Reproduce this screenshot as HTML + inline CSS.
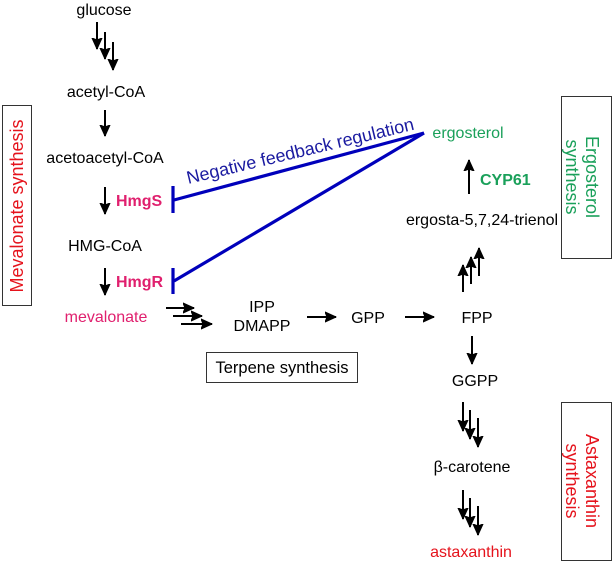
<!DOCTYPE html>
<html><head><meta charset="utf-8"><style>
html,body{margin:0;padding:0;background:#fff;}
svg{display:block;font-family:"Liberation Sans",Arial,sans-serif;}
text{font-size:16px;}
</style></head><body>
<svg width="614" height="567" viewBox="0 0 614 567">
<defs>
<marker id="ah" viewBox="0 0 12 12" refX="11" refY="6" markerWidth="12" markerHeight="12" markerUnits="userSpaceOnUse" orient="auto">
<polygon points="0,1 11,6 0,11 2,6" fill="#000" stroke="#000" stroke-width="1" stroke-linejoin="round"/>
</marker>
</defs>
<g stroke="#000" stroke-width="2" marker-end="url(#ah)">
<line x1="97" y1="22" x2="97" y2="49"/>
<line x1="105" y1="32" x2="105" y2="59"/>
<line x1="113" y1="42" x2="113" y2="70"/>
<line x1="105" y1="110" x2="105" y2="136"/>
<line x1="105" y1="187" x2="105" y2="214"/>
<line x1="105" y1="268" x2="105" y2="295"/>
<line x1="166" y1="308" x2="194" y2="308"/>
<line x1="173" y1="316" x2="202" y2="316"/>
<line x1="181" y1="324" x2="212" y2="324"/>
<line x1="307" y1="317" x2="336" y2="317"/>
<line x1="405" y1="317" x2="434" y2="317"/>
<line x1="463" y1="292" x2="463" y2="265"/>
<line x1="471" y1="284" x2="471" y2="257"/>
<line x1="479" y1="276" x2="479" y2="248"/>
<line x1="469" y1="194" x2="469" y2="160"/>
<line x1="472" y1="336" x2="472" y2="364"/>
<line x1="463" y1="402" x2="463" y2="431"/>
<line x1="470" y1="410" x2="470" y2="439"/>
<line x1="478" y1="418" x2="478" y2="447"/>
<line x1="463" y1="490" x2="463" y2="519"/>
<line x1="470" y1="498" x2="470" y2="527"/>
<line x1="478" y1="506" x2="478" y2="535"/>
</g>
<g stroke="#0000bb" stroke-width="3.2" fill="none">
<line x1="424" y1="133" x2="174" y2="200"/>
<line x1="424" y1="133" x2="174" y2="281"/>
<line x1="173" y1="186" x2="173" y2="213"/>
<line x1="173" y1="268" x2="173" y2="294"/>
</g>
<text x="300" y="157" fill="#1a1aa0" text-anchor="middle" transform="rotate(-13.5 300 150)" style="font-size:18px">Negative feedback regulation</text>
<g text-anchor="middle" fill="#000">
<text x="104" y="15">glucose</text>
<text x="106" y="97">acetyl-CoA</text>
<text x="105" y="163">acetoacetyl-CoA</text>
<text x="105" y="251">HMG-CoA</text>
<text x="262" y="312">IPP</text>
<text x="262" y="331">DMAPP</text>
<text x="368" y="323">GPP</text>
<text x="477" y="323">FPP</text>
<text x="475" y="386">GGPP</text>
<text x="472" y="472">β-carotene</text>
<text x="482" y="225">ergosta-5,7,24-trienol</text>
<text x="106" y="322" fill="#e0206e">mevalonate</text>
<text x="471" y="557" fill="#e5131c">astaxanthin</text>
<text x="468" y="138" fill="#1aa05a">ergosterol</text>
</g>
<text x="116" y="206" fill="#e0206e" font-weight="bold">HmgS</text>
<text x="116" y="287" fill="#e0206e" font-weight="bold">HmgR</text>
<text x="480" y="185" fill="#1aa05a" font-weight="bold">CYP61</text>
<rect x="2.5" y="105.5" width="29" height="200" fill="none" stroke="#333" stroke-width="1"/>
<text x="23" y="206" fill="#e5131c" text-anchor="middle" transform="rotate(-90 23 206)" style="font-size:18px">Mevalonate synthesis</text>
<rect x="206.5" y="352.5" width="151" height="30" fill="none" stroke="#333" stroke-width="1"/>
<text x="282" y="373" text-anchor="middle" style="font-size:16.5px">Terpene synthesis</text>
<rect x="561.5" y="96.5" width="50" height="162" fill="none" stroke="#333" stroke-width="1"/>
<g fill="#1aa05a" text-anchor="middle">
<text x="586" y="177" transform="rotate(90 586 177)" style="font-size:18px">Ergosterol</text>
<text x="566" y="177" transform="rotate(90 566 177)" style="font-size:18px">synthesis</text>
</g>
<rect x="561.5" y="402.5" width="50" height="158" fill="none" stroke="#333" stroke-width="1"/>
<g fill="#e5131c" text-anchor="middle">
<text x="586" y="481" transform="rotate(90 586 481)" style="font-size:18px">Astaxanthin</text>
<text x="566" y="481" transform="rotate(90 566 481)" style="font-size:18px">synthesis</text>
</g>
</svg>
</body></html>
